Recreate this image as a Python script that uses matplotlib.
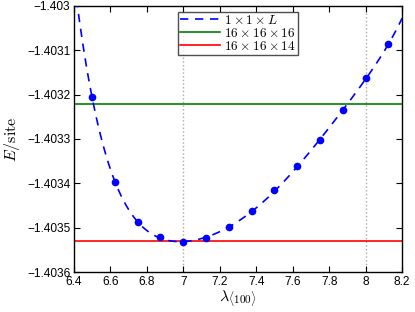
import numpy as np
import matplotlib
matplotlib.use("Agg")
import matplotlib.pyplot as plt
from matplotlib.ticker import FuncFormatter

plt.rcParams['font.family'] = ['Liberation Sans', 'DejaVu Sans']
plt.rcParams['mathtext.fontset'] = 'cm'

lam = [6.5, 6.625, 6.75, 6.875, 7.0, 7.125, 7.25, 7.375, 7.5, 7.625, 7.75, 7.875, 8.0, 8.125]
energy = [-1.403206, -1.403397, -1.403487, -1.403521, -1.403532, -1.403523, -1.403499,
          -1.403463, -1.403416, -1.403362, -1.403302, -1.4032355, -1.403163, -1.4030865]
e_16_16_16 = -1.403221
e_16_16_14 = -1.403531
vlines = [7.0, 8.0]
xticks = [6.4, 6.6, 6.8, 7.0, 7.2, 7.4, 7.6, 7.8, 8.0, 8.2]
yticks = [-1.4036, -1.4035, -1.4034, -1.4033, -1.4032, -1.4031, -1.4030]

fig = plt.figure(figsize=(4.15, 3.12), dpi=100)
ax = fig.add_axes([0.178, 0.128, 0.791, 0.853])

# smooth fit through the data
coef = np.polyfit(np.array(lam) - 7.0, energy, 6)
xf = np.linspace(6.4, 8.2, 400)
yf = np.polyval(coef, xf - 7.0)

for v in vlines:
    ax.axvline(v, color='#aaaaaa', ls=':', lw=1.0, zorder=1)

ax.plot(xf, yf, color='#0000ff', ls=(0, (5, 4)), lw=1.2, label=r'$1\times1\times L$', zorder=3)
ax.plot(lam, energy, 'o', color='#0000ff', ms=4.5, zorder=4)
ax.axhline(e_16_16_16, color='#008000', lw=1.2, label=r'$16\times16\times16$', zorder=2)
ax.axhline(e_16_16_14, color='#ff0000', lw=1.2, label=r'$16\times16\times14$', zorder=2)

ax.set_xlim(6.4, 8.2)
ax.set_ylim(-1.4036, -1.4030)
ax.set_xticks(xticks)
ax.set_yticks(yticks)
ax.xaxis.set_major_formatter(FuncFormatter(lambda v, p: '%g' % v))
ax.yaxis.set_major_formatter(FuncFormatter(lambda v, p: ('%g' % round(v, 5)).replace('-', '\u2212')))
ax.tick_params(direction='in', top=True, right=True, labelsize=8.6, length=4, pad=2.5)
ax.tick_params(axis='x', pad=3)
for s in ax.spines.values():
    s.set_linewidth(1.0)

ax.set_xlabel(r'$\lambda_{\langle 100\rangle}$', fontsize=11.5, labelpad=0)
ax.set_ylabel(r'$E/\mathrm{site}$', fontsize=11.5, labelpad=4)

leg = ax.legend(loc='upper center', fontsize=9.6, frameon=True, fancybox=False,
                edgecolor='#222222', handlelength=3.0, borderpad=0.15, labelspacing=0.0,
                handletextpad=0.3, borderaxespad=0.45, bbox_to_anchor=(0.5, 1.0))
leg.get_frame().set_linewidth(1.0)

fig.savefig('out.png', dpi=100)
